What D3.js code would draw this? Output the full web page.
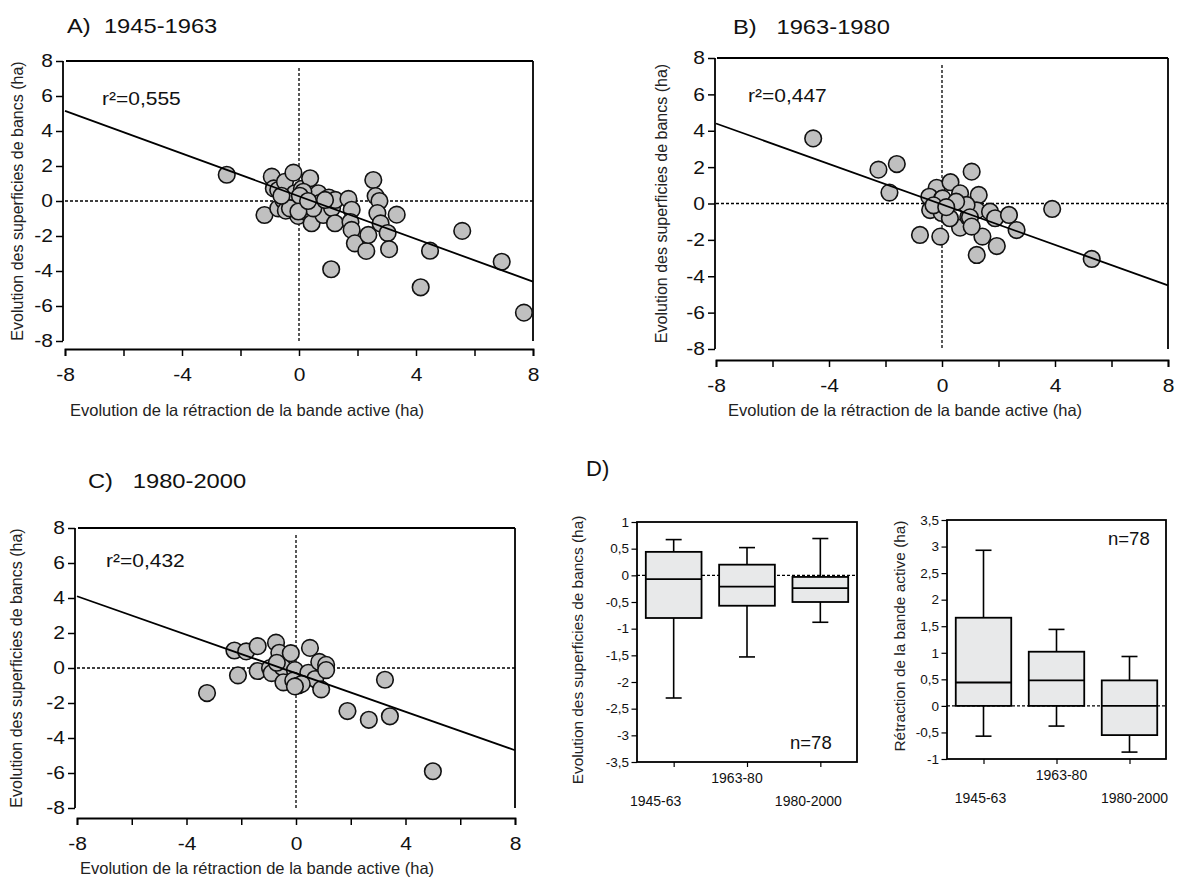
<!DOCTYPE html>
<html><head><meta charset="utf-8">
<script src="https://cdn.jsdelivr.net/npm/d3@7"></script>
<style>
html,body{margin:0;padding:0;background:#fff;}
svg{display:block;font-family:"Liberation Sans",Arial,sans-serif;}
</style></head>
<body><svg id="chart" width="1182" height="887"></svg>
<script>
// ---------------- DATA ----------------
const titles = ["A)\u00a0\u00a01945-1963", "B)\u00a0\u00a0\u00a01963-1980", "C)\u00a0\u00a0\u00a01980-2000", "D)"];
const r2Labels = ["r\u00b2=0,555", "r\u00b2=0,447", "r\u00b2=0,432"];
const yLabelScatter = "Evolution des superficies de bancs (ha)";
const xLabelScatter = "Evolution de la r\u00e9traction de la bande active (ha)";
const scatterXTicks = [-8, -4, 0, 4, 8];
const scatterYTicks = [-8, -6, -4, -2, 0, 2, 4, 6, 8];

// Panel A (x = retraction, y = bancs)
const ptsA_x = [-2.47,-1.18,-0.93,-0.86,-0.71,-0.71,-0.48,-0.54,-0.45,-0.19,-0.14,-0.09,-0.03,0.0,0.1,0.21,0.32,0.38,0.43,0.55,0.66,0.72,0.83,1.02,1.13,1.24,1.23,1.1,1.69,1.8,1.76,1.8,1.91,2.3,2.37,2.54,2.62,2.75,2.68,2.79,3.03,3.08,3.34,4.48,4.16,5.58,6.93,7.69,-0.31,0.15,0.03,0.49,0.89,-0.02,0.31,-0.6];
const ptsA_y = [1.5,-0.8,1.39,0.72,0.63,-0.42,1.1,0.06,-0.55,1.62,0.44,-0.33,-0.85,-0.23,0.7,0.25,-0.71,1.3,-1.27,0.25,0.44,-0.1,-0.8,0.2,-0.4,0.06,-1.27,-3.9,0.12,-0.5,-1.2,-1.65,-2.42,-2.85,-1.94,1.2,0.28,0.0,-0.69,-1.28,-1.83,-2.75,-0.78,-2.84,-4.93,-1.71,-3.47,-6.38,-0.42,0.53,0.3,-0.42,0.06,-0.6,0.0,0.3];
const fitA = [5.15, -4.61]; // regression values at x=-8 and x=8

// Panel B
const ptsB_x = [-4.56,-2.25,-1.6,-1.86,-0.78,-0.06,-0.19,0.3,1.05,-0.45,-0.42,-0.01,0.0,0.64,0.64,0.93,1.3,1.23,1.43,1.23,0.02,0.28,0.87,0.99,1.05,1.7,1.88,1.94,2.37,2.64,3.9,5.3,-0.3,0.5,0.15];
const ptsB_y = [3.58,1.86,2.17,0.6,-1.73,-1.82,0.86,1.17,1.75,0.37,-0.36,-0.52,0.26,0.56,-1.33,-0.74,0.47,-0.38,-1.82,-2.83,0.28,-0.81,-0.08,-0.76,-1.27,-0.45,-0.81,-2.34,-0.63,-1.46,-0.3,-3.05,-0.1,0.1,-0.2];
const fitB = [4.4, -4.5];

// Panel C
const ptsC_x = [-3.25,-2.25,-2.12,-1.82,-1.4,-1.4,-0.73,-0.61,-0.95,-0.89,-0.49,-0.46,-0.19,-0.04,-0.1,0.08,0.51,0.45,0.7,0.85,1.1,1.1,0.92,1.88,2.66,3.43,3.25,5.0,0.21,-0.04,-0.7];
const ptsC_y = [-1.43,1.0,-0.42,0.95,1.25,-0.17,1.45,0.87,0.0,-0.29,0.04,-0.82,0.85,-0.12,-0.72,-1.0,1.15,-0.27,-0.63,0.35,0.18,-0.12,-1.22,-2.46,-2.96,-2.76,-0.67,-5.9,-0.91,-1.05,0.3];
const fitC = [4.1, -4.7];

// Panel D box plots
const boxCats = ["1945-63", "1963-80", "1980-2000"];
const bancsLow  = [-2.3, -1.53, -0.88];
const bancsQ1   = [-0.8, -0.57, -0.5];
const bancsMed  = [-0.07, -0.21, -0.24];
const bancsQ3   = [0.44, 0.2, -0.03];
const bancsHigh = [0.67, 0.52, 0.69];
const retrLow  = [-0.57, -0.38, -0.87];
const retrQ1   = [0, 0, -0.55];
const retrMed  = [0.44, 0.48, 0];
const retrQ3   = [1.66, 1.02, 0.48];
const retrHigh = [2.93, 1.44, 0.93];
const bancsTicks = [1, 0.5, 0, -0.5, -1, -1.5, -2, -2.5, -3, -3.5];
const retrTicks = [3.5, 3, 2.5, 2, 1.5, 1, 0.5, 0, -0.5, -1];
const boxYLabels = ["Evolution des superficies de bancs (ha)", "R\u00e9traction de la bande active (ha)"];
const nLabel = "n=78";

// ---------------- DRAW ----------------
const svg = d3.select("#chart");
svg.append("rect").attr("width",1182).attr("height",887).attr("fill","#fff");
const fr = d3.formatLocale({decimal: ",", thousands: " ", grouping: [3], currency: ["", ""]});
const fmtNum = v => fr.format("")(+v.toFixed(2)).replace("\u2212","-");
const SX = 1.13; // glyphs in the reference are wider than Arial

function stretch(sel, sx){
  sel.each(function(){
    const t = d3.select(this);
    const x = +t.attr("x") || 0, y = +t.attr("y") || 0;
    const prev = t.attr("transform") || "";
    t.attr("transform", `${prev} translate(${x},${y}) scale(${sx},1)`).attr("x", 0).attr("y", 0);
  });
}

function scatterPanel(cfg){
  const g = svg.append("g");
  const x = d3.scaleLinear().domain([-8, 8]).range([cfg.x0, cfg.x1]);
  const y = d3.scaleLinear().domain([-8, 8]).range([cfg.yb, cfg.yt]);
  // frame top + right
  g.append("line").attr("x1", cfg.x0+1).attr("x2", cfg.x1).attr("y1", cfg.yt).attr("y2", cfg.yt).attr("stroke","#000").attr("stroke-width",1.8);
  g.append("line").attr("x1", cfg.x1).attr("x2", cfg.x1).attr("y1", cfg.yt).attr("y2", cfg.yb).attr("stroke","#000").attr("stroke-width",1.8);
  // y axis
  const yAx = g.append("g").attr("transform", `translate(${cfg.yAxX},0)`);
  yAx.call(d3.axisLeft(y).tickValues(d3.range(-8, 9, 1)).tickSize(3.5).tickFormat(""));
  yAx.call(d3.axisLeft(y).tickValues(scatterYTicks).tickSize(7).tickFormat(d => String(d)));
  // x axis
  const xAx = g.append("g").attr("transform", `translate(0,${cfg.xAxY})`);
  xAx.call(d3.axisBottom(x).tickValues(d3.range(-8, 9, 1)).tickSize(4).tickFormat(""));
  xAx.call(d3.axisBottom(x).tickValues(d3.range(-8, 9, 2)).tickSize(7).tickFormat(d => scatterXTicks.includes(d) ? String(d) : ""));
  [yAx, xAx].forEach(a => {
    a.selectAll("path.domain").attr("stroke","#000").attr("stroke-width",1.8);
    a.selectAll(".tick line").attr("stroke","#000").attr("stroke-width",1.5);
    a.selectAll("text").attr("font-family","Liberation Sans, Arial, sans-serif").attr("font-size",cfg.tickFs).attr("fill","#111");
  });
  yAx.selectAll("path.domain").attr("d", `M0,${cfg.yt}V${cfg.yb}`);
  yAx.selectAll("text").attr("x", -10);
  xAx.selectAll("text").attr("y", cfg.xTickDy);
  stretch(yAx.selectAll("text"), SX);
  stretch(xAx.selectAll("text"), SX);
  // dashed zero lines
  g.append("line").attr("x1", x(0)).attr("x2", x(0)).attr("y1", cfg.yt+7).attr("y2", cfg.yb)
    .attr("stroke","#000").attr("stroke-width",1.3).attr("stroke-dasharray","3,2");
  g.append("line").attr("x1", cfg.x0).attr("x2", cfg.x1).attr("y1", y(0)).attr("y2", y(0))
    .attr("stroke","#000").attr("stroke-width",1.3).attr("stroke-dasharray","3,2");
  // points
  const pts = cfg.px.map((d,i) => [d, cfg.py[i]]);
  g.append("g").selectAll("circle").data(pts).join("circle")
    .attr("cx", d => x(d[0])).attr("cy", d => y(d[1])).attr("r", 8.3)
    .attr("fill","#c0c0c0").attr("stroke","#111").attr("stroke-width",1.6);
  // regression line
  g.append("line").attr("x1", x(-8)).attr("x2", x(8)).attr("y1", y(cfg.fit[0])).attr("y2", y(cfg.fit[1]))
    .attr("stroke","#000").attr("stroke-width",1.8);
  // texts
  const r2 = g.append("text").attr("x", cfg.r2x).attr("y", cfg.r2y).attr("font-size", 18.6).attr("fill","#111").text(cfg.r2);
  const tt = g.append("text").attr("x", cfg.tx).attr("y", cfg.ty).attr("font-size", 21).attr("fill","#111").text(cfg.title);
  stretch(r2, SX); stretch(tt, SX);
  g.append("text").attr("transform", `translate(${cfg.ylx},${(cfg.yt+cfg.yb)/2}) rotate(-90)`)
    .attr("text-anchor","middle").attr("font-size", 16).attr("fill","#222").text(yLabelScatter);
  g.append("text").attr("x", cfg.xlx).attr("y", cfg.xly)
    .attr("font-size", 16.5).attr("fill","#222").text(xLabelScatter);
}

scatterPanel({x0:65, x1:533, yt:61, yb:341, yAxX:63, xAxY:349, px:ptsA_x, py:ptsA_y, fit:fitA,
  r2:r2Labels[0], r2x:102, r2y:105, title:titles[0], tx:67, ty:33, ylx:23, xlx:70, xly:416,
  tickFs:18.6, xTickDy:19});
scatterPanel({x0:716, x1:1168, yt:58, yb:349, yAxX:715, xAxY:360, px:ptsB_x, py:ptsB_y, fit:fitB,
  r2:r2Labels[1], r2x:748, r2y:102, title:titles[1], tx:733, ty:34, ylx:667, xlx:728, xly:416,
  tickFs:18.6, xTickDy:19});
scatterPanel({x0:77, x1:515, yt:528, yb:808, yAxX:75, xAxY:818, px:ptsC_x, py:ptsC_y, fit:fitC,
  r2:r2Labels[2], r2x:106, r2y:567, title:titles[2], tx:88, ty:488, ylx:22, xlx:80, xly:874,
  tickFs:18.6, xTickDy:19});

svg.append("text").attr("x", 586).attr("y", 476).attr("font-size", 22).attr("fill","#111").text(titles[3]);

function boxPanel(cfg){
  const g = svg.append("g");
  const x = d3.scalePoint().domain(boxCats).range([cfg.x0, cfg.x1]).padding(0.5);
  const y = d3.scaleLinear().domain(cfg.dom).range([cfg.yb, cfg.yt]);
  const step = x.step();
  const bw = step * 0.76;
  // dashed zero
  g.append("line").attr("x1", cfg.x0).attr("x2", cfg.x1).attr("y1", y(0)).attr("y2", y(0))
    .attr("stroke","#000").attr("stroke-width",1.2).attr("stroke-dasharray","3,2");
  const rows = boxCats.map((c,i) => ({c, lo:cfg.lo[i], q1:cfg.q1[i], med:cfg.med[i], q3:cfg.q3[i], hi:cfg.hi[i]}));
  const bg = g.selectAll("g.box").data(rows).join("g");
  bg.append("line").attr("x1", d => x(d.c)).attr("x2", d => x(d.c)).attr("y1", d => y(d.hi)).attr("y2", d => y(d.lo))
    .attr("stroke","#000").attr("stroke-width",1.6);
  bg.append("line").attr("x1", d => x(d.c)-8).attr("x2", d => x(d.c)+8).attr("y1", d => y(d.hi)).attr("y2", d => y(d.hi))
    .attr("stroke","#000").attr("stroke-width",1.6);
  bg.append("line").attr("x1", d => x(d.c)-8).attr("x2", d => x(d.c)+8).attr("y1", d => y(d.lo)).attr("y2", d => y(d.lo))
    .attr("stroke","#000").attr("stroke-width",1.6);
  bg.append("rect").attr("x", d => x(d.c)-bw/2).attr("width", bw).attr("y", d => y(d.q3)).attr("height", d => y(d.q1)-y(d.q3))
    .attr("fill","#e8e9ea").attr("stroke","#000").attr("stroke-width",1.8);
  bg.append("line").attr("x1", d => x(d.c)-bw/2).attr("x2", d => x(d.c)+bw/2).attr("y1", d => y(d.med)).attr("y2", d => y(d.med))
    .attr("stroke","#000").attr("stroke-width",1.8);
  // frame
  g.append("rect").attr("x", cfg.x0).attr("y", cfg.yt).attr("width", cfg.x1-cfg.x0).attr("height", cfg.yb-cfg.yt)
    .attr("fill","none").attr("stroke","#000").attr("stroke-width",1.8);
  // y axis
  const yAx = g.append("g").attr("transform", `translate(${cfg.x0},0)`);
  yAx.call(d3.axisLeft(y).tickValues(d3.range(cfg.dom[0], cfg.dom[1]+0.01, 0.125)).tickSize(3).tickFormat(""));
  yAx.call(d3.axisLeft(y).tickValues(cfg.ticks).tickSize(5.5).tickFormat(fmtNum));
  yAx.selectAll("path.domain").remove();
  yAx.selectAll(".tick line").attr("stroke","#000").attr("stroke-width",1.2);
  yAx.selectAll("text").attr("font-family","Liberation Sans, Arial, sans-serif").attr("font-size",13.5).attr("fill","#111").attr("x",-8);
  // x ticks + staggered labels
  const xAx = g.append("g").attr("transform", `translate(0,${cfg.yb})`);
  xAx.call(d3.axisBottom(x).tickSize(5).tickFormat(""));
  xAx.selectAll("path.domain").remove();
  xAx.selectAll(".tick line").attr("stroke","#000").attr("stroke-width",1.2);
  g.selectAll("text.cat").data(boxCats).join("text").attr("class","cat")
    .attr("x", (d,i) => x(d) + cfg.labDx[i]).attr("y", (d,i) => i === 1 ? cfg.yb+21 : cfg.yb+44)
    .attr("text-anchor","middle").attr("font-size",14).attr("fill","#111").text(d => d);
  g.append("text").attr("x", cfg.nx).attr("y", cfg.ny).attr("font-size",18.5).attr("fill","#111").text(nLabel);
  g.append("text").attr("transform", `translate(${cfg.ylx},${cfg.yly}) rotate(-90)`)
    .attr("text-anchor","middle").attr("font-size",15.4).attr("fill","#222").text(cfg.ylab);
}

boxPanel({x0:637, x1:857, yt:522, yb:762, dom:[-3.5, 1], ticks:bancsTicks,
  lo:bancsLow, q1:bancsQ1, med:bancsMed, q3:bancsQ3, hi:bancsHigh, labDx:[-18,-10,-12],
  nx:790, ny:749, ylx:583, yly:650, ylab:boxYLabels[0]});
boxPanel({x0:947, x1:1166, yt:520, yb:759, dom:[-1, 3.5], ticks:retrTicks,
  lo:retrLow, q1:retrQ1, med:retrMed, q3:retrQ3, hi:retrHigh, labDx:[-3,5,5],
  nx:1108, ny:545, ylx:905, yly:636, ylab:boxYLabels[1]});
</script></body></html>
